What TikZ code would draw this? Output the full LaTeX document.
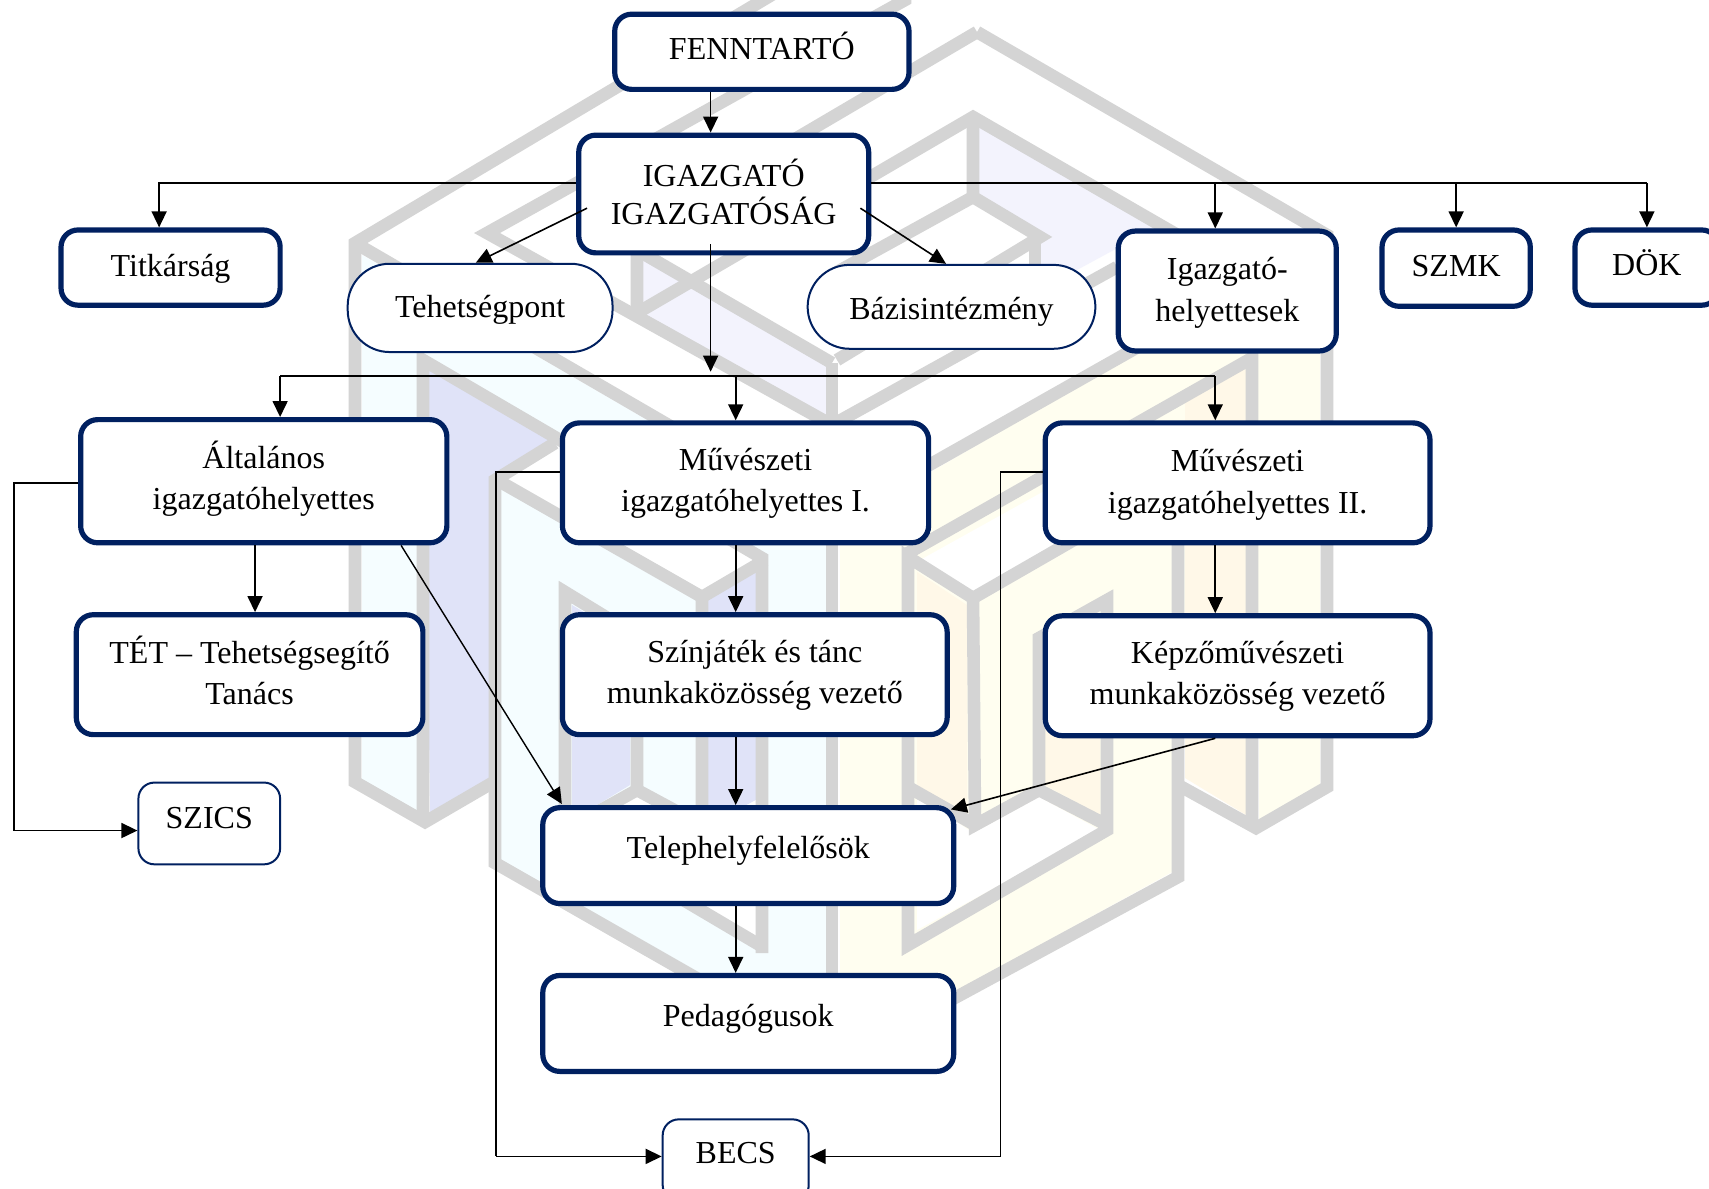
\documentclass[tikz,border=0pt]{standalone}
\usepackage{fontspec}
\setmainfont{Liberation Serif}
\usetikzlibrary{arrows.meta,calc}
\definecolor{navy}{HTML}{002060}
\definecolor{wmgray}{HTML}{D4D4D4}
\definecolor{wmcyan}{HTML}{F5FDFF}
\definecolor{wmblue}{HTML}{E0E3F8}
\definecolor{wmpurple}{HTML}{F3F3FD}
\definecolor{wmyellow}{HTML}{FFFEF0}
\definecolor{wmorange}{HTML}{FFF8E8}
\def\U{0.54495}
\def\bxsk{20.7}
\newcommand\bx[8]{%
  \pgfmathsetmacro\bxw{(#5-#3)*\U}%
  \pgfmathsetmacro\bxh{(#6-#4)*\U}%
  \pgfmathsetmacro\bxr{((#4+#6)/2-#7-0.7)*\U}%
  \node[#1,minimum width=\bxw pt,minimum height=\bxh pt] (#2) at ({(#3+#5)/2},{(#4+#6)/2})
    {\raisebox{\bxr pt}[0pt][0pt]{\fontsize{16pt}{\bxsk pt}\selectfont\begin{tabular}[t]{@{}c@{}}#8\end{tabular}}};%
}
\tikzset{
  thickbox/.style={draw=navy,fill=white,line width=2.6pt,rounded corners=8.5pt,inner sep=0pt},
  thinbox/.style={draw=navy,fill=white,line width=1pt,rounded corners=8pt,inner sep=0pt},
  pillbox/.style={draw=navy,fill=white,line width=1pt,rounded corners=21pt,inner sep=0pt},
  conn/.style={black,line width=.8pt},
  arr/.style={conn,-{Triangle[length=8pt,width=7.5pt]}},
  wm/.style={draw=wmgray,line width=6.3pt,miter limit=10},
}
\begin{document}
\begin{tikzpicture}[x=0.54495pt,y=-0.54495pt]
\clip (0,0) rectangle (1568,1090);
\fill[white] (0,0) rectangle (1568,1090);
% watermark, in full-size pixels
\begin{scope}[x=.5pt,y=-.5pt]
\fill[wmcyan] (362,255)--(832,527)--(832,610)--(417,365)--(417,812)--(362,780)--cycle;
\fill[wmcyan] (497,440)--(832,600)--(832,1060)--(497,863)--cycle;
\fill[white] (560,445)--(765,560)--(700,597)--(497,480)--cycle;
\fill[wmblue] (425,362)--(555,438)--(490,478)--(490,785)--(430,820)--cycle;
\fill[wmblue] (572,605)--(630,640)--(630,785)--(572,820)--cycle;
\fill[wmblue] (708,592)--(756,565)--(756,800)--(708,825)--cycle;
\fill[white] (570,825)--(637,795)--(702,830)--(756,800)--(756,940)--cycle;
\fill[wmpurple] (640,250)--(826,360)--(826,420)--(640,315)--cycle;
\fill[wmpurple] (975,117)--(1160,225)--(1040,290)--(1040,233)--(975,197)--cycle;
\fill[wmyellow] (840,525)--(1320,245)--(1320,785)--(1259,822)--(1259,700)--(1172,700)--(1172,872)--(840,1055)--cycle;
\fill[wmorange] (1185,400)--(1246,365)--(1246,815)--(1185,778)--cycle;
\fill[white] (920,560)--(973,592)--(1172,480)--(1118,450)--cycle;
\fill[wmorange] (917,572)--(967,605)--(967,815)--(917,785)--cycle;
\fill[wmorange] (1045,650)--(1100,612)--(1100,815)--(1045,785)--cycle;
\fill[white] (917,930)--(917,795)--(973,833)--(1039,797)--(1100,830)--cycle;
\draw[wm] (790,-16)--(355,243)--(355,782)--(425,822)--(492,783);
\draw[wm] (423,822)--(423,360)--(762,558)--(762,953);
\draw[wm] (765,560)--(702,597)--(702,825)--(637,790)--(565,830)--(565,592)--(637,636)--(637,790);
\draw[wm] (565,830)--(763,947);
\draw[wm] (555,443)--(495,480)--(495,863)--(840,1060)--(1178,877)--(1178,480)--(973,598)--(908,557)--(908,945)--(1107,830)--(1107,600)--(1039,638)--(1039,790)--(1107,825);
\draw[wm] (1039,790)--(975,825)--(973,598);
\draw[wm] (975,825)--(908,787);
\draw[wm] (497,480)--(702,597);
\draw[wm] (355,243)--(832,520)--(1327,240);
\draw[wm] (832,363)--(832,1060);
\draw[wm] (905,-20)--(905,0)--(487,233)--(832,425)--(1117,267);
\draw[wm] (977,32)--(637,232)--(637,313);
\draw[wm] (637,250)--(832,363);
\draw[wm] (977,32)--(1327,235)--(1327,787)--(1256,828)--(1178,785);
\draw[wm] (1200,248)--(973,117)--(637,313);
\draw[wm] (973,117)--(973,197)--(1040,237)--(837,360);
\draw[wm] (973,197)--(837,272);
\draw[wm] (1035,237)--(1035,303);
\draw[wm] (1252,828)--(1252,358)--(908,553);
\end{scope}
% boxes
\bx{thickbox}{fennt}{564}{13}{834}{82}{54}{FENNTARTÓ}
\def\bxsk{18.6}
\bx{thickbox}{igaz}{531}{124}{797}{232}{170}{IGAZGATÓ\\IGAZGATÓSÁG}
\def\bxsk{20.7}
\bx{thickbox}{titk}{56}{211}{257}{280}{253}{Titkárság}
\bx{thickbox}{ighely}{1026}{212}{1226}{322}{256}{Igazgató-\\helyettesek}
\bx{thickbox}{szmk}{1268}{211}{1404}{281}{253}{SZMK}
\bx{thickbox}{dok}{1445}{211}{1577}{280}{252}{DÖK}
\bx{thickbox}{alt}{74}{385}{410}{498}{429}{Általános\\igazgatóhelyettes}
\bx{thickbox}{muI}{516}{388}{852}{498}{431}{Művészeti\\igazgatóhelyettes I.}
\bx{thickbox}{muII}{959}{388}{1312}{498}{432}{Művészeti\\igazgatóhelyettes II.}
\bx{thickbox}{tet}{70}{564}{388}{674}{608}{TÉT – Tehetségsegítő\\Tanács}
\bx{thickbox}{szin}{516}{564}{869}{674}{607}{Színjáték és tánc\\munkaközösség vezető}
\bx{thickbox}{kep}{959}{565}{1312}{675}{608}{Képzőművészeti\\munkaközösség vezető}
\bx{thickbox}{tele}{498}{741}{875}{829}{787}{Telephelyfelelősök}
\bx{thickbox}{peda}{498}{895}{875}{983}{941}{Pedagógusok}
\bx{pillbox}{tehet}{319}{242}{562}{323}{291}{Tehetségpont}
\bx{pillbox}{bazis}{741}{243}{1005}{320}{292}{Bázisintézmény}
\bx{thinbox}{szics}{127}{718}{257}{793}{759}{SZICS}
\bx{thinbox}{becs}{608}{1027}{742}{1102}{1067}{BECS}
% guide coordinates
\coordinate (gA) at (652,0);
\coordinate (gB) at (675,0);
\coordinate (gC) at (1115,0);
\coordinate (gD) at (234,0);
\coordinate (gTit) at (146,0);
\coordinate (gSz) at (1336,0);
\coordinate (gDo) at (1511,0);
\coordinate (rowTop) at (0,168);
\coordinate (busEnd) at (652,341);
\coordinate (busL) at (257,345);
\coordinate (busR) at (1115,345);
\coordinate (busM) at (675,345);
\coordinate (leftRail) at (13,0);
\coordinate (railI) at (455,0);
\coordinate (railII) at (918,0);
\coordinate (rowI) at (0,433);
\coordinate (rowAlt) at (0,443);
\coordinate (rowSz) at (0,762);
\coordinate (rowBe) at (0,1061);
% connectors
\draw[arr] (fennt.south -| gA) -- (igaz.north -| gA);
\draw[arr] (igaz.west |- rowTop) -| (titk.north -| gTit);
\draw[conn] (igaz.east |- rowTop) -- (rowTop -| gDo);
\draw[arr] (rowTop -| gC) -- (ighely.north -| gC);
\draw[arr] (rowTop -| gSz) -- (szmk.north -| gSz);
\draw[arr] (rowTop -| gDo) -- (dok.north -| gDo);
\draw[arr] ([shift={(10,13)}]igaz.west) -- ([shift={(-4,0)}]tehet.north);
\draw[arr] ([shift={(-10,13)}]igaz.east) -- ([shift={(-5,0)}]bazis.north);
\draw[arr] ([shift={(-12,46)}]igaz.center) -- (busEnd);
\draw[conn] (busL) -- (busR);
\draw[arr] (busL) -- (alt.north -| busL);
\draw[arr] (busM) -- (muI.north -| busM);
\draw[arr] (busR) -- (muII.north -| busR);
\draw[conn] (alt.west |- rowAlt) -- (rowAlt -| leftRail) -- (rowSz -| leftRail);
\draw[arr] (rowSz -| leftRail) -- (szics.west |- rowSz);
\draw[arr] (alt.south -| gD) -- (tet.north -| gD);
\draw[arr,line width=.7pt] ([shift={(126,0)}]alt.south) -- ([shift={(-171,-1)}]tele.north);
\draw[arr] (muI.south -| gB) -- (szin.north -| gB);
\draw[arr] (szin.south -| gB) -- (tele.north -| gB);
\draw[arr] (tele.south -| gB) -- (peda.north -| gB);
\draw[conn] (muI.west |- rowI) -- (rowI -| railI) -- (rowBe -| railI);
\draw[arr] (rowBe -| railI) -- (becs.west |- rowBe);
\draw[conn] (muII.west |- rowI) -- (rowI -| railII) -- (rowBe -| railII);
\draw[arr] (rowBe -| railII) -- (becs.east |- rowBe);
\draw[arr] (muII.south -| gC) -- (kep.north -| gC);
\draw[arr] (kep.south -| gC) -- ([shift={(-5,4)}]tele.north east);
\end{tikzpicture}
\end{document}
